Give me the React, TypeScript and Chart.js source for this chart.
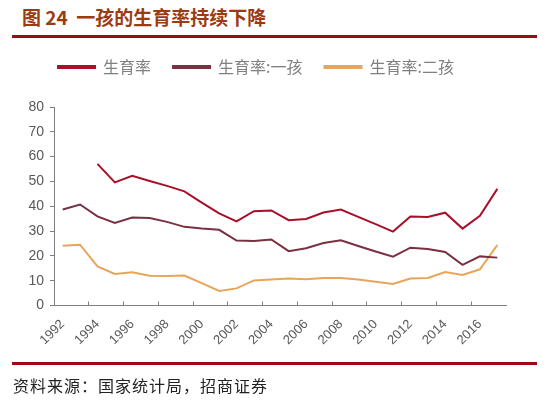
import React, { useEffect, useRef } from "react";
import { Chart, registerables } from "chart.js";

Chart.register(...registerables);

const years = [
  "1992", "1993", "1994", "1995", "1996", "1997", "1998", "1999", "2000", "2001",
  "2002", "2003", "2004", "2005", "2006", "2007", "2008", "2009", "2010", "2011",
  "2012", "2013", "2014", "2015", "2016", "2017",
];

const totalRate = [
  null, null, 57.1, 49.6, 52.3, 50.2, 48.2, 46.0, 41.5, 37.1,
  33.9, 38.0, 38.3, 34.4, 34.9, 37.5, 38.7, 35.7, 32.8, 29.8,
  35.9, 35.7, 37.4, 31.0, 36.2, 47.0,
];

const firstChildRate = [
  38.7, 40.7, 35.9, 33.3, 35.5, 35.3, 33.7, 31.7, 31.0, 30.5,
  26.2, 26.0, 26.6, 21.9, 23.1, 25.2, 26.3, 24.0, 21.8, 19.7,
  23.3, 22.8, 21.6, 16.4, 19.8, 19.3,
];

const secondChildRate = [
  24.1, 24.5, 15.8, 12.7, 13.4, 12.0, 11.9, 12.1, 9.0, 5.9,
  6.9, 10.1, 10.5, 10.9, 10.6, 11.1, 11.1, 10.5, 9.6, 8.7,
  10.9, 11.1, 13.5, 12.3, 14.6, 24.4,
];

const seriesNames = ["生育率", "生育率:一孩", "生育率:二孩"];
const seriesColors = ["#a8102a", "#7a3040", "#e8a55a"];

const titleText = "图 24  一孩的生育率持续下降";
const sourceText = "资料来源：国家统计局，招商证券";

const legendGap = {
  id: "legendGap",
  beforeInit(chart: any) {
    const origFit = chart.legend.fit;
    chart.legend.fit = function fit() {
      origFit.bind(chart.legend)();
      this.height += 22;
    };
  },
};

export default function App() {
  const canvasRef = useRef<HTMLCanvasElement>(null);

  useEffect(() => {
    document.body.style.margin = "0";
    const ctx = canvasRef.current;
    if (!ctx) return;
    const font = "'Liberation Sans', Arial, sans-serif";
    const data = [totalRate, firstChildRate, secondChildRate];
    const chart = new Chart(ctx, {
      type: "line",
      data: {
        labels: years,
        datasets: seriesNames.map((name, i) => ({
          label: name,
          data: data[i],
          borderColor: seriesColors[i],
          backgroundColor: seriesColors[i],
          borderWidth: 2,
          pointRadius: 0,
          tension: 0,
          spanGaps: false,
        })),
      },
      plugins: [legendGap],
      options: {
        animation: false,
        responsive: false,
        maintainAspectRatio: false,
        layout: { padding: { top: 37, left: 6, right: 48, bottom: 43 } },
        plugins: {
          tooltip: { enabled: false },
          legend: {
            display: true,
            position: "top",
            labels: {
              boxWidth: 37,
              boxHeight: 2,
              padding: 22,
              color: "#808080",
              font: { family: "'Noto Sans CJK SC', sans-serif", size: 16 },
            },
          },
        },
        scales: {
          x: {
            type: "category",
            offset: true,
            grid: {
              offset: true,
              drawOnChartArea: false,
              drawTicks: true,
              tickLength: -4,
              tickWidth: 1,
              tickColor: (c: any) => (c.index % 2 === 0 ? "#7f7f7f" : "rgba(0,0,0,0)"),
            },
            border: { display: true, color: "#7f7f7f", width: 1 },
            ticks: {
              autoSkip: false,
              maxRotation: 45,
              minRotation: 45,
              padding: 15,
              color: "#595959",
              font: { family: font, size: 13 },
              callback: (_v: any, i: number) => (i % 2 === 0 ? years[i] : ""),
            },
          },
          y: {
            min: 0,
            max: 80,
            afterFit: (s: any) => {
              s.width = 48;
            },
            ticks: {
              stepSize: 10,
              padding: 6,
              color: "#595959",
              font: { family: font, size: 14 },
            },
            grid: {
              drawOnChartArea: false,
              drawTicks: true,
              tickLength: 4,
              tickColor: "#7f7f7f",
            },
            border: { display: true, color: "#7f7f7f", width: 1 },
          },
        },
      },
    });
    return () => chart.destroy();
  }, []);

  return (
    <div style={{ position: "relative", width: 554, height: 406, background: "#fff", overflow: "hidden" }}>
      <div
        style={{
          position: "absolute",
          left: 22,
          top: 5,
          fontFamily: "'Noto Sans CJK SC', sans-serif",
          fontWeight: 700,
          fontSize: 19,
          lineHeight: "24px",
          color: "#9c3a12",
          whiteSpace: "pre",
        }}
      >
        {titleText}
      </div>
      <div style={{ position: "absolute", left: 12, top: 35, width: 525, height: 3, background: "#a00a14" }} />
      <canvas ref={canvasRef} width={554} height={406} style={{ position: "absolute", left: 0, top: 0, width: 554, height: 406 }} />
      <div style={{ position: "absolute", left: 12, top: 362, width: 525, height: 3, background: "#a00a14" }} />
      <div
        style={{
          position: "absolute",
          left: 13,
          top: 374,
          fontFamily: "'Noto Sans CJK SC', serif",
          fontSize: 16,
          lineHeight: "22px",
          color: "#222",
          whiteSpace: "pre",
          letterSpacing: 1,
        }}
      >
        {sourceText}
      </div>
    </div>
  );
}
